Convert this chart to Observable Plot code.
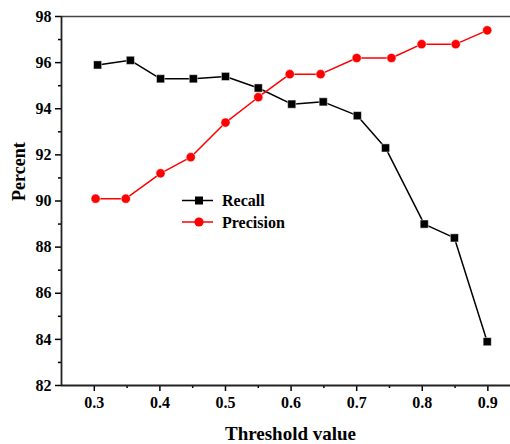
<!DOCTYPE html>
<html>
<head>
<meta charset="utf-8">
<script src="https://cdn.jsdelivr.net/npm/d3@7"></script>
<script src="https://cdn.jsdelivr.net/npm/@observablehq/plot@0.6"></script>
<style>
  html, body { margin: 0; padding: 0; background: #fff; }
  #chart svg { display: block; }
</style>
</head>
<body>
<div id="chart"></div>
<script>
// Data
const recallX = [0.305, 0.355, 0.401, 0.451, 0.500, 0.550, 0.601, 0.649, 0.701, 0.744, 0.803, 0.849, 0.899];
const recallY = [95.9, 96.1, 95.3, 95.3, 95.4, 94.9, 94.2, 94.3, 93.7, 92.3, 89.0, 88.4, 83.9];
const precisionX = [0.302, 0.348, 0.401, 0.447, 0.500, 0.550, 0.598, 0.645, 0.700, 0.753, 0.799, 0.851, 0.899];
const precisionY = [90.1, 90.1, 91.2, 91.9, 93.4, 94.5, 95.5, 95.5, 96.2, 96.2, 96.8, 96.8, 97.4];
const xTicks = [0.3, 0.4, 0.5, 0.6, 0.7, 0.8, 0.9];
const xMinorTicks = [0.35, 0.45, 0.55, 0.65, 0.75, 0.85];
const yTicks = [82, 84, 86, 88, 90, 92, 94, 96, 98];
const yMinorTicks = [83, 85, 87, 89, 91, 93, 95, 97];
const seriesNames = ["Recall", "Precision"];
const seriesColors = ["#000000", "#ff0000"];
const xLabel = "Threshold value";
const yLabel = "Percent";

const recall = recallX.map((x, i) => ({x, y: recallY[i]}));
const precision = precisionX.map((x, i) => ({x, y: precisionY[i]}));

const font = "'Liberation Serif', 'Times New Roman', serif";

const plot = Plot.plot({
  width: 510,
  height: 444,
  marginLeft: 61,
  marginRight: 0,
  marginTop: 16,
  marginBottom: 59,
  style: {fontFamily: font, fontWeight: "bold", fontSize: "16px", color: "#000", background: "#fff"},
  x: {domain: [0.25, 0.9345]},
  y: {domain: [82, 98]},
  marks: [
    Plot.axisX({ticks: xTicks, tickFormat: d3.format(".1f"), tickSize: 6, tickPadding: 5, label: null, fontWeight: "bold", fontSize: 16, strokeWidth: 1.5}),
    Plot.axisX({ticks: xMinorTicks, tickFormat: () => "", tickSize: 3, label: null, strokeWidth: 1.5}),
    Plot.axisY({ticks: yTicks, tickFormat: d3.format("d"), tickSize: 6, tickPadding: 4, label: null, fontWeight: "bold", fontSize: 16, strokeWidth: 1.5}),
    Plot.axisY({ticks: yMinorTicks, tickFormat: () => "", tickSize: 3, label: null, strokeWidth: 1.5}),
    Plot.ruleY([82], {stroke: "#222", strokeWidth: 1.8}),
    Plot.ruleY([98], {stroke: "#444", strokeWidth: 1.5}),
    Plot.ruleX([0.25], {stroke: "#222", strokeWidth: 1.8}),
    Plot.line(recall, {x: "x", y: "y", stroke: seriesColors[0], strokeWidth: 1.5}),
    Plot.dot(recall, {x: "x", y: "y", symbol: "square", r: 4.6, fill: seriesColors[0], stroke: "#fff", strokeWidth: 0.5}),
    Plot.line(precision, {x: "x", y: "y", stroke: seriesColors[1], strokeWidth: 1.5}),
    Plot.dot(precision, {x: "x", y: "y", symbol: "circle", r: 4.6, fill: seriesColors[1], stroke: "#fff", strokeWidth: 0.5}),
    Plot.text([xLabel], {frameAnchor: "bottom", dy: 48, dx: 4.5, fontSize: 19, fontWeight: "bold", lineAnchor: "middle", fill: "#000"}),
    Plot.text([yLabel], {frameAnchor: "left", dx: -42, rotate: -90, fontSize: 18, fontWeight: "bold", fill: "#000"})
  ]
});

document.getElementById("chart").appendChild(plot);

// Legend inside the plot area
const svg = d3.select(plot);
const lg = svg.append("g").attr("font-family", font).attr("font-weight", "bold").attr("font-size", 16).attr("text-anchor", "start");
seriesNames.forEach((name, i) => {
  const y = 200.5 + i * 21.5;
  lg.append("line").attr("x1", 182).attr("x2", 213).attr("y1", y).attr("y2", y)
    .attr("stroke", seriesColors[i]).attr("stroke-width", 1.5);
  if (i === 0) {
    lg.append("rect").attr("x", 195).attr("y", y - 4).attr("width", 8).attr("height", 8).attr("fill", seriesColors[i]);
  } else {
    lg.append("circle").attr("cx", 199).attr("cy", y).attr("r", 4.6).attr("fill", seriesColors[i]);
  }
  lg.append("text").attr("x", 222).attr("y", y).attr("dy", "0.35em").attr("text-anchor", "start").attr("fill", "#000").text(name);
});
</script>
</body>
</html>
